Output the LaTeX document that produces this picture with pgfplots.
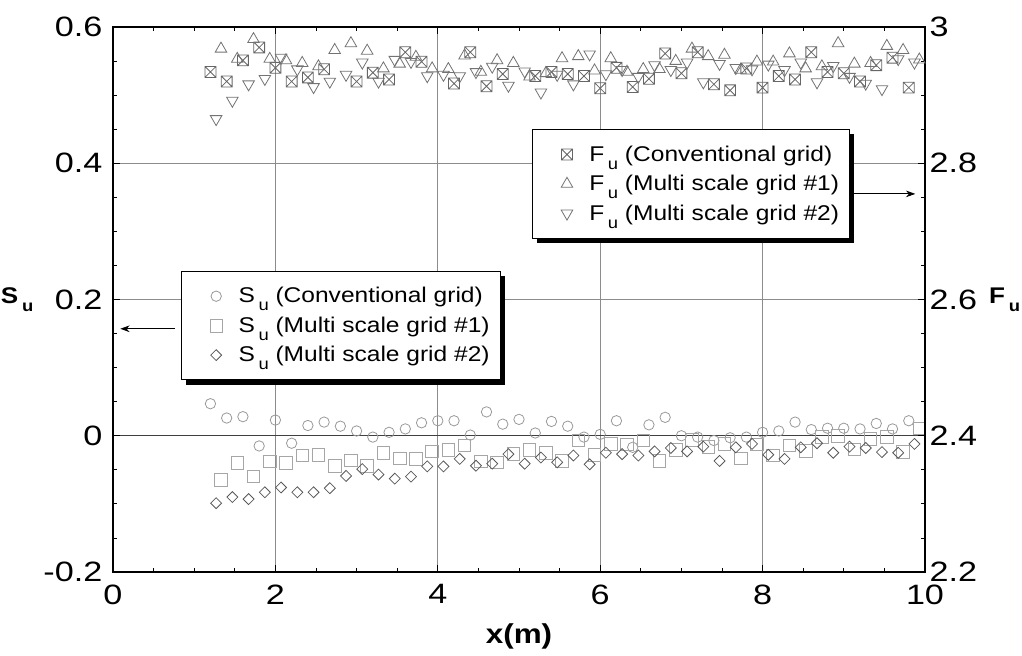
\documentclass[border=0pt]{standalone}
\usepackage{fontspec}
\setmainfont{Liberation Sans}[FakeStretch=1.15]
\newfontfamily\tickfont{Liberation Sans}[FakeStretch=1.22]
\usepackage{pgfplots}
\pgfplotsset{compat=1.18}
\usetikzlibrary{shadows,arrows.meta}

\pgfdeclareplotmark{boxtimes}{%
  \pgfpathrectangle{\pgfqpoint{-\pgfplotmarksize}{-\pgfplotmarksize}}{\pgfqpoint{2\pgfplotmarksize}{2\pgfplotmarksize}}%
  \pgfpathmoveto{\pgfqpoint{-\pgfplotmarksize}{-\pgfplotmarksize}}\pgfpathlineto{\pgfqpoint{\pgfplotmarksize}{\pgfplotmarksize}}%
  \pgfpathmoveto{\pgfqpoint{-\pgfplotmarksize}{\pgfplotmarksize}}\pgfpathlineto{\pgfqpoint{\pgfplotmarksize}{-\pgfplotmarksize}}%
  \pgfusepathqstroke}

\newcommand{\sub}[1]{\,\raisebox{-6pt}{\fontsize{12}{12}\selectfont #1}}

\pgfplotsset{
  mylegend/.style={
    draw=black, line width=0.9pt, fill=white,
    drop shadow={shadow xshift=3.5pt, shadow yshift=-3.5pt, fill=black, opacity=1},
    font=\fontsize{16}{19}\selectfont, inner xsep=6pt, inner ysep=10pt,
    row sep=5pt, cells={anchor=west}},
  legend image code/.code={\path (0pt,0pt) (34pt,0pt); \draw[#1] plot coordinates {(19.5pt,0pt)};},
}

\begin{document}
\begin{tikzpicture}
\begin{axis}[
  scale only axis, width=609pt, height=408.75pt,
  xmin=0, xmax=10, ymin=-0.2, ymax=0.6,
  xtick={0,2,4,6,8,10}, xticklabels={0,2,4,6,8,10},
  ytick={-0.2,0,0.2,0.4,0.6}, yticklabels={-0.2,0,0.2,0.4,0.6},
  minor x tick num=3, minor y tick num=3,
  tick align=inside, xtick pos=both, ytick pos=left,
  major tick length=5pt, minor tick length=3pt,
  tick style={black, line width=0.6pt},
  grid=major, grid style={black!45, line width=0.6pt},
  extra y ticks={0}, extra y tick labels={},
  extra y tick style={grid style={black!75, line width=0.7pt}},
  axis line style={line width=1pt},
  ticklabel style={font=\tickfont\fontsize{21}{25}\selectfont},
  xticklabel style={yshift=-6pt},
  yticklabel style={xshift=-4.5pt},
  xlabel={\bfseries x(m)},
  xlabel style={at={(axis description cs:0.5,-0.119)}, anchor=center, font=\fontsize{20.5}{24}\selectfont},
  every axis y label/.style={at={(axis description cs:-0.118,0.5)}, anchor=center},
  ylabel={\fontsize{17}{20}\selectfont\bfseries S\sub{\bfseries u}},
  legend style={mylegend, at={(axis cs:0.84,0.242)}, anchor=north west},
  clip=false,
]
\coordinate (SW) at (rel axis cs:0,0);
\coordinate (NE) at (rel axis cs:1,1);
\addplot[only marks, mark=o, mark size=3.9pt, black!40, line width=0.6pt] coordinates {
(1.2,0.047) (1.4,0.026) (1.6,0.028) (1.8,-0.015) (2.0,0.023) (2.2,-0.011) (2.4,0.015) (2.6,0.020)
(2.8,0.014) (3.0,0.007) (3.2,-0.002) (3.4,0.005) (3.6,0.010) (3.8,0.019) (4.0,0.022) (4.2,0.022)
(4.4,0.001) (4.6,0.035) (4.8,0.017) (5.0,0.024) (5.2,0.004) (5.4,0.021) (5.6,0.014) (5.8,-0.002)
(6.0,0.002) (6.2,0.022) (6.4,-0.017) (6.6,0.016) (6.8,0.027) (7.0,0.000) (7.2,-0.002) (7.4,-0.007)
(7.6,-0.003) (7.8,-0.002) (8.0,0.005) (8.2,0.007) (8.4,0.020) (8.6,0.009) (8.8,0.011) (9.0,0.011)
(9.2,0.010) (9.4,0.018) (9.6,0.010) (9.8,0.022)};
\addlegendentry{S\sub{u} (Conventional grid)}
\addplot[only marks, mark=square, mark size=4.7pt, black!35, line width=0.6pt] coordinates {
(1.33,-0.065) (1.53,-0.040) (1.73,-0.060) (1.93,-0.038) (2.13,-0.040) (2.33,-0.029) (2.53,-0.028)
(2.73,-0.044) (2.93,-0.036) (3.13,-0.044) (3.33,-0.025) (3.53,-0.033) (3.73,-0.034) (3.93,-0.023)
(4.13,-0.021) (4.33,-0.014) (4.53,-0.038) (4.73,-0.039) (4.93,-0.027) (5.13,-0.021) (5.33,-0.025)
(5.53,-0.037) (5.73,-0.007) (5.93,-0.028) (6.13,-0.012) (6.33,-0.013) (6.53,-0.007) (6.73,-0.037)
(6.93,-0.021) (7.13,-0.006) (7.33,-0.016) (7.53,-0.012) (7.73,-0.033) (7.93,-0.013) (8.13,-0.029)
(8.33,-0.014) (8.53,-0.022) (8.73,-0.002) (8.93,0.000) (9.13,-0.020) (9.33,-0.005) (9.53,-0.002)
(9.73,-0.024) (9.93,0.011)};
\addlegendentry{S\sub{u} (Multi scale grid \#1)}
\addplot[only marks, mark=square, mark options={rotate=45}, mark size=2.9pt, black!65, line width=0.6pt] coordinates {
(1.27,-0.099) (1.47,-0.090) (1.67,-0.093) (1.87,-0.083) (2.07,-0.076) (2.27,-0.083) (2.47,-0.083)
(2.67,-0.077) (2.87,-0.059) (3.07,-0.049) (3.27,-0.057) (3.47,-0.063) (3.67,-0.060) (3.87,-0.045)
(4.07,-0.045) (4.27,-0.034) (4.47,-0.044) (4.67,-0.041) (4.87,-0.027) (5.07,-0.041) (5.27,-0.032)
(5.47,-0.039) (5.67,-0.029) (5.87,-0.042) (6.07,-0.025) (6.27,-0.027) (6.47,-0.029) (6.67,-0.023)
(6.87,-0.018) (7.07,-0.023) (7.27,-0.016) (7.47,-0.037) (7.67,-0.017) (7.87,-0.012) (8.07,-0.028)
(8.27,-0.034) (8.47,-0.017) (8.67,-0.011) (8.87,-0.025) (9.07,-0.016) (9.27,-0.018) (9.47,-0.024)
(9.67,-0.025) (9.87,-0.012)};
\addlegendentry{S\sub{u} (Multi scale grid \#2)}
\draw[line width=0.6pt, -{Stealth[length=7pt,width=5pt]}] (axis cs:0.76,0.157) -- (axis cs:0.09,0.157);
\end{axis}

\begin{axis}[
  scale only axis, width=609pt, height=408.75pt,
  xmin=0, xmax=10, ymin=2.2, ymax=3,
  axis x line=none, axis y line*=right,
  ytick={2.2,2.4,2.6,2.8,3}, yticklabels={2.2,2.4,2.6,2.8,3},
  minor y tick num=3,
  tick align=inside,
  major tick length=5pt, minor tick length=3pt,
  tick style={black, line width=0.6pt},
  axis line style={line width=1pt},
  ticklabel style={font=\tickfont\fontsize{21}{25}\selectfont},
  every axis y label/.style={at={(axis description cs:1.098,0.5)}, anchor=center},
  ylabel={\fontsize{17}{20}\selectfont\bfseries F\sub{\bfseries u}},
  legend style={mylegend, at={(axis cs:5.16,2.850)}, anchor=north west},
  clip=false,
]
\addplot[only marks, mark=boxtimes, mark size=4.1pt, black!60, line width=0.6pt] coordinates {
(1.2,2.934) (1.4,2.920) (1.6,2.951) (1.8,2.970) (2.0,2.940) (2.2,2.920) (2.4,2.926) (2.6,2.938)
(3.0,2.920) (3.2,2.933) (3.4,2.923) (3.6,2.963) (3.8,2.949) (4.2,2.917) (4.4,2.963) (4.6,2.913)
(4.8,2.931) (5.2,2.928) (5.4,2.934) (5.6,2.931) (5.8,2.928) (6.0,2.910) (6.2,2.940) (6.4,2.912)
(6.6,2.924) (6.8,2.961) (7.0,2.932) (7.2,2.963) (7.4,2.916) (7.6,2.907) (7.8,2.939) (8.0,2.911)
(8.2,2.928) (8.4,2.923) (8.6,2.963) (8.8,2.934) (9.0,2.932) (9.2,2.920) (9.4,2.944) (9.6,2.955)
(9.8,2.911)};
\addlegendentry{F\sub{u} (Conventional grid)}
\addplot[only marks, mark=triangle, mark size=5pt, black!55, line width=0.6pt] coordinates {
(1.33,2.968) (1.53,2.953) (1.73,2.982) (1.93,2.953) (2.13,2.951) (2.33,2.947) (2.53,2.942)
(2.73,2.966) (2.93,2.976) (3.13,2.965) (3.33,2.939) (3.53,2.946) (3.73,2.956) (3.93,2.939)
(4.13,2.938) (4.33,2.958) (4.53,2.934) (4.73,2.951) (4.93,2.947) (5.13,2.927) (5.33,2.932)
(5.53,2.954) (5.73,2.957) (5.93,2.936) (6.13,2.954) (6.33,2.934) (6.53,2.938) (6.73,2.938)
(6.93,2.950) (7.13,2.968) (7.33,2.957) (7.53,2.959) (7.73,2.937) (7.93,2.949) (8.13,2.949)
(8.33,2.961) (8.53,2.939) (8.73,2.942) (8.93,2.976) (9.13,2.946) (9.33,2.947) (9.53,2.972)
(9.73,2.966) (9.93,2.952)};
\addlegendentry{F\sub{u} (Multi scale grid \#1)}
\addplot[only marks, mark=triangle, mark options={rotate=180}, mark size=5pt, black!55, line width=0.6pt] coordinates {
(1.27,2.865) (1.47,2.892) (1.67,2.916) (1.87,2.924) (2.07,2.955) (2.27,2.938) (2.47,2.912)
(2.67,2.920) (2.87,2.930) (3.07,2.948) (3.27,2.920) (3.47,2.952) (3.67,2.949) (3.87,2.928)
(4.07,2.930) (4.27,2.928) (4.47,2.934) (4.67,2.942) (4.87,2.914) (5.07,2.935) (5.27,2.904)
(5.47,2.930) (5.67,2.916) (5.87,2.960) (6.07,2.931) (6.27,2.937) (6.47,2.927) (6.67,2.944)
(6.87,2.937) (7.07,2.948) (7.27,2.919) (7.47,2.946) (7.67,2.940) (7.87,2.938) (8.07,2.945)
(8.27,2.937) (8.47,2.948) (8.67,2.919) (8.87,2.943) (9.07,2.927) (9.27,2.917) (9.47,2.909)
(9.67,2.953) (9.87,2.948)};
\addlegendentry{F\sub{u} (Multi scale grid \#2)}
\draw[line width=0.6pt, -{Stealth[length=7pt,width=5pt]}] (axis cs:9.08,2.755) -- (axis cs:9.88,2.755);
\end{axis}
\pgfresetboundingbox
\path[use as bounding box] ([xshift=-84.75pt,yshift=-63pt]SW) rectangle ([xshift=72.75pt,yshift=20.25pt]NE);
\end{tikzpicture}
\end{document}
